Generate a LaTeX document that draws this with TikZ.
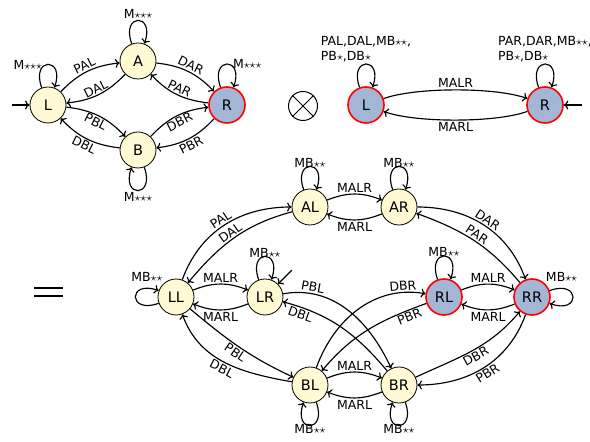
\documentclass[tikz,border=0pt]{standalone}
\usepackage{fontspec}
\setmainfont{DejaVu Sans}
\usetikzlibrary{arrows.meta,calc}
\definecolor{stfill}{RGB}{255,250,212}
\definecolor{accfill}{RGB}{163,182,214}
\newcommand{\mystar}{\ensuremath{\star}}
\begin{document}
\begin{tikzpicture}[x=1pt,y=1pt,
  >={To[length=4.5pt,width=9pt]},
  state/.style={circle, draw, line width=0.8pt, fill=stfill, minimum size=36pt, inner sep=0pt, font=\fontsize{14.5}{17}\selectfont},
  acc/.style={state, draw=red, line width=1.6pt, fill=accfill},
  tr/.style={->, line width=1.15pt},
  lab/.style={font=\fontsize{12.5}{15}\selectfont, inner sep=1.5pt},
]
\useasboundingbox (0,0) rectangle (590,442);
\def\ld{33pt}
% top left automaton
\node[state] (L) at (48,337) {L};
\node[state] (A) at (138,381) {A};
\node[state] (B) at (138,292) {B};
\node[acc] (R) at (227,337) {R};
\coordinate (Li) at (12,337);
\draw[tr] (Li) -- (L);
\draw[tr] (L) to[bend left=20] node[lab,sloped,above]{PAL} (A);
\draw[tr] (A) to[bend left=20] node[lab,sloped,above]{DAL} (L);
\draw[tr] (A) to[bend left=20] node[lab,sloped,above]{DAR} (R);
\draw[tr] (R) to[bend left=20] node[lab,sloped,above]{PAR} (A);
\draw[tr] (L) to[bend left=20] node[lab,sloped,below]{PBL} (B);
\draw[tr] (B) to[bend left=20] node[lab,sloped,below]{DBL} (L);
\draw[tr] (B) to[bend left=20] node[lab,sloped,below]{DBR} (R);
\draw[tr] (R) to[bend left=20] node[lab,sloped,below]{PBR} (B);
\draw[tr] (L.110) .. controls +(110:\ld) and +(70:\ld) .. (L.70) node[lab,pos=0.5,left=4pt]{M\mystar\mystar\mystar};
\draw[tr] (A.110) .. controls +(110:\ld) and +(70:\ld) .. (A.70) node[lab,pos=0.5,above]{M\mystar\mystar\mystar};
\draw[tr] (R.110) .. controls +(110:\ld) and +(70:\ld) .. (R.70) node[lab,pos=0.5,right=4pt]{M\mystar\mystar\mystar};
\draw[tr] (B.-70) .. controls +(-70:\ld) and +(-110:\ld) .. (B.-110) node[lab,pos=0.5,below]{M\mystar\mystar\mystar};
% otimes
\node[circle, draw, line width=1pt, minimum size=29pt, inner sep=0pt] (X) at (303,336) {};
\draw[line width=1pt] (X.45) -- (X.225) (X.135) -- (X.-45);
% top right automaton
\node[acc] (L2) at (366,337) {L};
\node[acc] (R2) at (545,337) {R};
\coordinate (R2i) at (582,337);
\draw[tr] (R2i) -- (R2);
\draw[tr] (L2) to[out=20,in=160,looseness=0.6] node[lab,above]{MALR} (R2);
\draw[tr] (R2) to[out=200,in=-20,looseness=0.6] node[lab,below]{MARL} (L2);
\draw[tr] (L2.110) .. controls +(110:\ld) and +(70:\ld) .. (L2.70) node[lab,pos=0.5,above,align=left]{PAL,DAL,MB\mystar\mystar,\\PB\mystar,DB\mystar};
\draw[tr] (R2.110) .. controls +(110:\ld) and +(70:\ld) .. (R2.70) node[lab,pos=0.5,above,align=left]{PAR,DAR,MB\mystar\mystar,\\PB\mystar,DB\mystar};
% equals sign
\draw[line width=1.2pt] (34,154) -- (63,154) (34,146) -- (63,146);
% product automaton
\node[state] (AL) at (310,235) {AL};
\node[state] (AR) at (399,235) {AR};
\node[state] (LL) at (176,145) {LL};
\node[state] (LR) at (265,145) {LR};
\node[acc] (RL) at (444,145) {RL};
\node[acc] (RR) at (532,145) {RR};
\node[state] (BL) at (310,57) {BL};
\node[state] (BR) at (399,57) {BR};
\coordinate (LRi) at ($(LR)+(45:38)$);
\draw[tr] (LRi) -- (LR);
\foreach \a/\b in {AL/AR,LL/LR,RL/RR,BL/BR}{
  \draw[tr] (\a) to[bend left=22] node[lab,above]{MALR} (\b);
  \draw[tr] (\b) to[bend left=22] node[lab,below]{MARL} (\a);
}
\draw[tr] (LL) to[out=70,in=180] node[lab,sloped,above]{PAL} (AL);
\draw[tr] (AL) to[out=195,in=50] node[lab,sloped,above]{DAL} (LL);
\draw[tr] (AR) to[out=0,in=110] node[lab,sloped,above]{DAR} (RR);
\draw[tr] (RR) to[out=130,in=-20] node[lab,sloped,above]{PAR} (AR);
\draw[tr] (LL) to[out=-40,in=155] node[lab,sloped,below]{PBL} (BL);
\draw[tr] (BL) to[out=170,in=-70] node[lab,sloped,below]{DBL} (LL);
\draw[tr] (BR) to[out=25,in=230] node[lab,sloped,below]{DBR} (RR);
\draw[tr] (RR) to[out=-110,in=0] node[lab,sloped,below]{PBR} (BR);
\draw[tr] (LR) to[out=10,in=115] node[lab,sloped,above,pos=0.2]{PBL} (BR);
\draw[tr] (BR) to[out=130,in=-15] node[lab,sloped,below,pos=0.85]{DBL} (LR);
\draw[tr] (BL) to[out=70,in=170] node[lab,sloped,above,pos=0.85]{DBR} (RL);
\draw[tr] (RL) to[out=200,in=50] node[lab,sloped,below,pos=0.15]{PBR} (BL);
\foreach \n in {AL,AR,LR,RL}{
  \draw[tr] (\n.110) .. controls +(110:\ld) and +(70:\ld) .. (\n.70) node[lab,pos=0.5,above=-3pt]{MB\mystar\mystar};
}
\foreach \n in {BL,BR}{
  \draw[tr] (\n.-70) .. controls +(-70:\ld) and +(-110:\ld) .. (\n.-110) node[lab,pos=0.5,below=-3pt]{MB\mystar\mystar};
}
\draw[tr] (LL.200) .. controls +(200:\ld) and +(160:\ld) .. (LL.160) node[lab,pos=0.85,above=5pt]{MB\mystar\mystar};
\draw[tr] (RR.20) .. controls +(20:\ld) and +(-20:\ld) .. (RR.-20) node[lab,pos=0.15,above=5pt]{MB\mystar\mystar};
\end{tikzpicture}
\end{document}
